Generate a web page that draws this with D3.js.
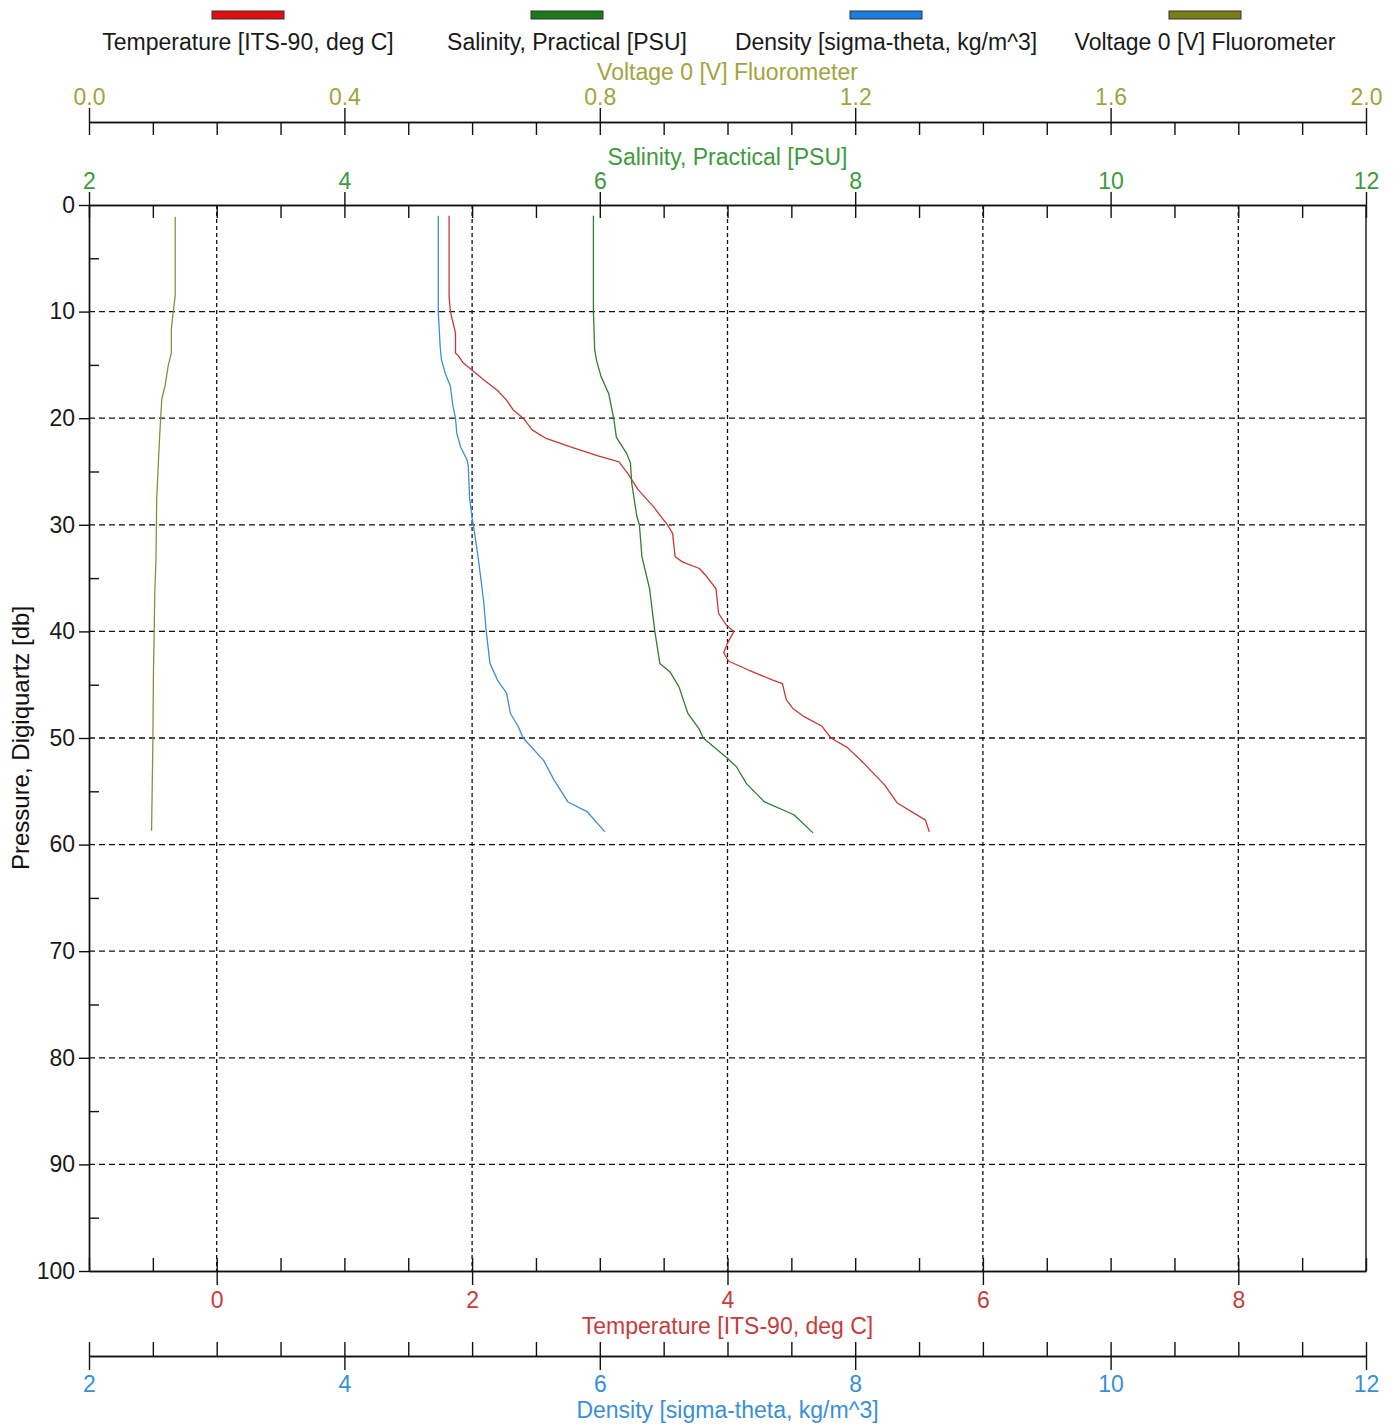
<!DOCTYPE html>
<html>
<head>
<meta charset="utf-8">
<script src="https://cdn.jsdelivr.net/npm/d3@7"></script>
<style>
  html, body { margin: 0; padding: 0; background: #ffffff; }
  svg { display: block; font-family: "Liberation Sans", Arial, sans-serif; }
</style>
</head>
<body>
<svg id="chart" width="1397" height="1428"></svg>
<script>
// ---------- DATA (pressure [db], value) ----------
const tempPressure = [1, 5, 8.6, 10, 11, 12, 13.9, 14.1, 14.8, 15.6, 16.4, 17.4, 18.3, 19.2, 20, 21.1, 21.9, 22.7, 23.5, 24.1, 25.2, 26.7, 28.3, 29.4, 30, 30.8, 33.0, 33.5, 34.1, 34.9, 36, 38.3, 39.4, 40, 41.1, 42, 42.8, 43.6, 44.6, 44.9, 46.4, 47.2, 48, 48.9, 50, 50.9, 52.4, 54.4, 56.1, 57.7, 58.8];
const tempValues   = [1.82, 1.82, 1.82, 1.83, 1.85, 1.87, 1.87, 1.89, 1.93, 2.01, 2.09, 2.20, 2.27, 2.32, 2.40, 2.47, 2.58, 2.77, 2.98, 3.15, 3.22, 3.30, 3.42, 3.49, 3.53, 3.57, 3.59, 3.65, 3.78, 3.84, 3.91, 3.93, 3.99, 4.05, 4.00, 3.97, 4.01, 4.16, 4.36, 4.43, 4.46, 4.51, 4.60, 4.74, 4.81, 4.94, 5.07, 5.23, 5.33, 5.55, 5.58];

const salPressure = [1, 10, 13.6, 14.6, 16.1, 17.7, 20.1, 21.8, 23.3, 24.2, 26.1, 29.2, 30, 33, 36, 39.9, 43, 43.8, 45.2, 47.7, 49.2, 50, 51.8, 52.7, 54.3, 56, 57.2, 58.9];
const salValues   = [5.95, 5.95, 5.96, 5.975, 6.01, 6.07, 6.11, 6.13, 6.21, 6.24, 6.25, 6.29, 6.31, 6.33, 6.39, 6.43, 6.47, 6.55, 6.62, 6.69, 6.78, 6.81, 6.99, 7.07, 7.15, 7.29, 7.52, 7.67];

const densPressure = [1, 10, 13.3, 14.5, 15.8, 17, 18.9, 20, 21.4, 22.7, 23.9, 24.5, 27.4, 29.4, 30, 33.3, 37.1, 39.9, 43, 44.6, 45.8, 47.7, 48.9, 50, 52.1, 53.9, 56, 56.9, 58.8];
const densValues   = [4.735, 4.735, 4.75, 4.76, 4.79, 4.83, 4.85, 4.87, 4.88, 4.91, 4.96, 4.97, 4.98, 5.00, 5.01, 5.05, 5.09, 5.11, 5.14, 5.20, 5.27, 5.30, 5.36, 5.40, 5.56, 5.64, 5.75, 5.90, 6.04];

const voltPressure = [1.1, 8.5, 10, 11.6, 13.9, 15.1, 17, 18.2, 21.3, 23.7, 27.6, 33, 36.5, 40.4, 43.5, 50.5, 58.7];
const voltValues   = [0.135, 0.135, 0.132, 0.129, 0.129, 0.124, 0.119, 0.114, 0.111, 0.109, 0.106, 0.105, 0.103, 0.102, 0.101, 0.100, 0.098];

// axis ticks
const pressureMajorTicks = [0, 10, 20, 30, 40, 50, 60, 70, 80, 90, 100];
const pressureMinorTicks = [5, 15, 25, 35, 45, 55, 65, 75, 85, 95];
const voltMajorTicks = [0.0, 0.4, 0.8, 1.2, 1.6, 2.0];
const salMajorTicks = [2, 4, 6, 8, 10, 12];
const tempMajorTicks = [0, 2, 4, 6, 8];
const densMajorTicks = [2, 4, 6, 8, 10, 12];

const seriesNames = ["Temperature [ITS-90, deg C]", "Salinity, Practical [PSU]", "Density [sigma-theta, kg/m^3]", "Voltage 0 [V] Fluorometer"];
const seriesSwatch = ["#e01010", "#1c7a1c", "#1a7fe4", "#7d7d18"];
const seriesLine   = ["#c43a36", "#2f7f2f", "#3c8ed6", "#8e8e3a"];
const seriesText   = ["#c63c3c", "#3d9a3d", "#3a8fd8", "#a3a33c"];

// ---------- LAYOUT ----------
const W = 1397, H = 1428;
const L = 89, R = 1366, T = 205, B = 1271;
const FS = 23;
const svg = d3.select("#chart");

const y = d3.scaleLinear([0, 100], [T, B]);
const xT = d3.scaleLinear([-1, 9], [L, R]);
const xS = d3.scaleLinear([2, 12], [L, R]);
const xD = d3.scaleLinear([2, 12], [L, R]);
const xV = d3.scaleLinear([0, 2], [L, R]);

function styleAxis(g, color) {
  g.attr("font-family", null).attr("font-size", null);
  g.select(".domain").attr("stroke", "#111").attr("stroke-width", 1.4);
  g.selectAll(".tick line").attr("stroke", "#111").attr("stroke-width", 1.4);
  g.selectAll(".tick text").attr("fill", color).style("font-size", FS + "px");
}

// ---------- GRID ----------
const grid = svg.append("g");
grid.selectAll("line.h").data([10, 20, 30, 40, 50, 60, 70, 80, 90]).join("line")
  .attr("x1", L).attr("x2", R).attr("y1", d => y(d)).attr("y2", d => y(d))
  .attr("stroke", "#111").attr("stroke-width", 1.3).attr("stroke-dasharray", "6,4");
grid.selectAll("line.v").data(tempMajorTicks).join("line")
  .attr("x1", d => xT(d)).attr("x2", d => xT(d)).attr("y1", T).attr("y2", B)
  .attr("stroke", "#111").attr("stroke-width", 1.3).attr("stroke-dasharray", "4,3");

// ---------- SERIES ----------
function zip(p, v) { return p.map((d, i) => [d, v[i]]); }
const series = [
  { data: zip(tempPressure, tempValues), x: xT },
  { data: zip(salPressure, salValues), x: xS },
  { data: zip(densPressure, densValues), x: xD },
  { data: zip(voltPressure, voltValues), x: xV }
];
const lines = svg.append("g");
series.forEach((s, i) => {
  const line = d3.line().x(d => s.x(d[1])).y(d => y(d[0]));
  lines.append("path").datum(s.data)
    .attr("d", line).attr("fill", "none")
    .attr("stroke", seriesLine[i]).attr("stroke-width", 1.3)
    .attr("stroke-linejoin", "round");
});

// ---------- AXES ----------
svg.append("line").attr("x1", R).attr("x2", R).attr("y1", T).attr("y2", B)
  .attr("stroke", "#111").attr("stroke-width", 1.4);

// Left pressure axis
const gL = svg.append("g").attr("transform", `translate(${L},0)`)
  .call(d3.axisLeft(y).tickValues(pressureMajorTicks).tickSizeInner(10).tickSizeOuter(0).tickPadding(4).tickFormat(d3.format("d")));
styleAxis(gL, "#1a1a1a");
const gLm = svg.append("g").attr("transform", `translate(${L},0)`)
  .call(d3.axisRight(y).tickValues(pressureMinorTicks).tickSizeInner(10).tickSizeOuter(0).tickFormat(""));
styleAxis(gLm, "#1a1a1a");

// Voltage axis (top, separate line)
const yV = 122;
const gVm = svg.append("g").attr("transform", `translate(0,${yV})`)
  .call(d3.axisBottom(xV).tickValues(d3.range(21).map(i => i * 0.1)).tickSizeInner(13).tickSizeOuter(0).tickFormat(""));
styleAxis(gVm, "#222");
const gV = svg.append("g").attr("transform", `translate(0,${yV})`)
  .call(d3.axisTop(xV).tickValues(voltMajorTicks).tickSizeInner(14).tickSizeOuter(0).tickPadding(3).tickFormat(d3.format(".1f")));
styleAxis(gV, seriesText[3]);

// Salinity axis (top of plot)
const gSm = svg.append("g").attr("transform", `translate(0,${T})`)
  .call(d3.axisBottom(xS).tickValues(d3.range(21).map(i => 2 + i * 0.5)).tickSizeInner(13).tickSizeOuter(0).tickFormat(""));
styleAxis(gSm, "#222");
const gS = svg.append("g").attr("transform", `translate(0,${T})`)
  .call(d3.axisTop(xS).tickValues(salMajorTicks).tickSizeInner(13).tickSizeOuter(0).tickPadding(3).tickFormat(d3.format("d")));
styleAxis(gS, seriesText[1]);

// Temperature axis (bottom of plot)
const gTm = svg.append("g").attr("transform", `translate(0,${B})`)
  .call(d3.axisTop(xT).tickValues(d3.range(21).map(i => -1 + i * 0.5)).tickSizeInner(13).tickSizeOuter(0).tickFormat(""));
styleAxis(gTm, "#222");
const gT = svg.append("g").attr("transform", `translate(0,${B})`)
  .call(d3.axisBottom(xT).tickValues(tempMajorTicks).tickSizeInner(14).tickSizeOuter(0).tickFormat(d3.format("d")));
styleAxis(gT, seriesText[0]);
gT.selectAll(".tick text").attr("y", 37).attr("dy", null);

// Density axis (bottom, separate line)
const yD = 1356;
const gDm = svg.append("g").attr("transform", `translate(0,${yD})`)
  .call(d3.axisTop(xD).tickValues(d3.range(21).map(i => 2 + i * 0.5)).tickSizeInner(14).tickSizeOuter(0).tickFormat(""));
styleAxis(gDm, "#222");
const gD = svg.append("g").attr("transform", `translate(0,${yD})`)
  .call(d3.axisBottom(xD).tickValues(densMajorTicks).tickSizeInner(14).tickSizeOuter(0).tickFormat(d3.format("d")));
styleAxis(gD, seriesText[2]);
gD.selectAll(".tick text").attr("y", 36).attr("dy", null);

// ---------- TITLES ----------
const cx = (L + R) / 2;
function title(text, x, yy, color) {
  return svg.append("text").attr("x", x).attr("y", yy).attr("text-anchor", "middle")
    .attr("fill", color).style("font-size", FS + "px").text(text);
}
title(seriesNames[3], cx, 80, seriesText[3]);
title(seriesNames[1], cx, 165, seriesText[1]);
title(seriesNames[0], cx, 1334, seriesText[0]);
title(seriesNames[2], cx, 1418, seriesText[2]);
svg.append("text").attr("transform", `translate(29,${(T + B) / 2}) rotate(-90)`)
  .attr("text-anchor", "middle").attr("fill", "#111").style("font-size", "24px")
  .text("Pressure, Digiquartz [db]");

// ---------- LEGEND ----------
const legendX = d3.scalePoint().domain(seriesNames).range([248, 1205]);
const leg = svg.append("g");
seriesNames.forEach((name, i) => {
  const c = legendX(name);
  leg.append("rect").attr("x", c - 36).attr("y", 11).attr("width", 72).attr("height", 8)
    .attr("fill", seriesSwatch[i]).attr("stroke", "#333").attr("stroke-width", 1);
  leg.append("text").attr("x", c).attr("y", 50).attr("text-anchor", "middle")
    .attr("fill", "#1a1a1a").style("font-size", FS + "px").text(name);
});
</script>
</body>
</html>
